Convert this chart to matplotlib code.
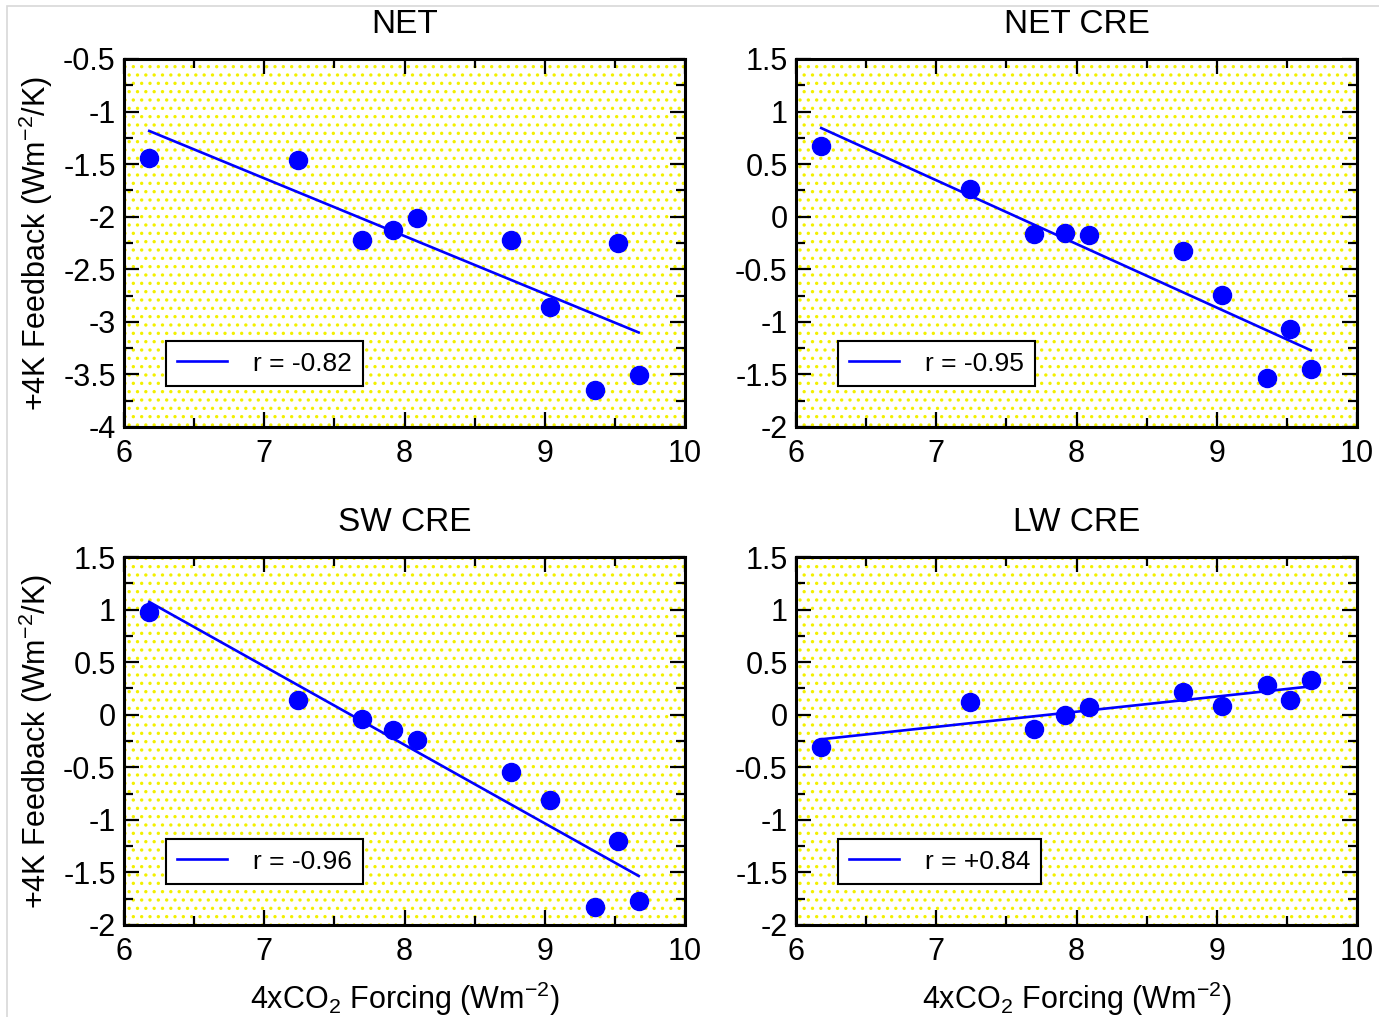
import numpy as np
import matplotlib
matplotlib.use('Agg')
import matplotlib.pyplot as plt
from matplotlib.patches import Rectangle
from matplotlib.ticker import MultipleLocator

plt.rcParams['font.family'] = ['Liberation Sans', 'DejaVu Sans']
plt.rcParams['mathtext.fontset'] = 'custom'
plt.rcParams['mathtext.rm'] = 'Liberation Sans'
plt.rcParams['hatch.linewidth'] = 1.2

# 4xCO2 forcing (same models in every panel)
forcing = [6.18, 7.24, 7.70, 7.92, 8.09, 8.76, 9.04, 9.36, 9.52, 9.67]

# +4K feedbacks
net = [-1.44, -1.46, -2.22, -2.13, -2.01, -2.22, -2.86, -3.65, -2.25, -3.51]
net_cre = [0.67, 0.26, -0.165, -0.156, -0.175, -0.33, -0.745, -1.535, -1.07, -1.45]
sw_cre = [0.977, 0.14, -0.04, -0.145, -0.24, -0.546, -0.81, -1.83, -1.20, -1.77]
lw_cre = [-0.31, 0.12, -0.137, -0.005, 0.07, 0.22, 0.08, 0.28, 0.14, 0.33]

titles = ['NET', 'NET CRE', 'SW CRE', 'LW CRE']
r_labels = ['r = -0.82', 'r = -0.95', 'r = -0.96', 'r = +0.84']
ylims = [(-4, -0.5), (-2, 1.5), (-2, 1.5), (-2, 1.5)]
series = [net, net_cre, sw_cre, lw_cre]

W, H = 1379, 1017
fig = plt.figure(figsize=(W / 100, H / 100), dpi=100)

# light frame around the figure
fig.patches.append(Rectangle((7 / W, -0.1), 1.2, 1 - 6 / H + 0.1, transform=fig.transFigure,
                             facecolor='none', edgecolor='#d8d8d8', linewidth=1.2))

lefts = [124, 796, 124, 796]
tops = [59, 59, 557, 557]
aw, ah = 561, 368

x = np.array(forcing)
for i in range(4):
    ax = fig.add_axes([lefts[i] / W, 1 - (tops[i] + ah) / H, aw / W, ah / H])
    ax.add_patch(Rectangle((0, 0), 1, 1, transform=ax.transAxes, facecolor='white',
                           edgecolor='#f2f000', linewidth=0, hatch='..', zorder=0))
    y = np.array(series[i])
    k, b = np.polyfit(x, y, 1)
    xl = np.array([x.min(), x.max()])
    ax.plot(xl, k * xl + b, color='blue', lw=1.9, label=r_labels[i], zorder=3)
    ax.plot(x, y, 'o', color='blue', ms=13, mec='blue', zorder=4)

    ax.set_xlim(6, 10)
    ax.set_ylim(*ylims[i])
    ax.xaxis.set_major_locator(MultipleLocator(1))
    ax.xaxis.set_minor_locator(MultipleLocator(0.5))
    ax.yaxis.set_major_locator(MultipleLocator(0.5))
    ax.yaxis.set_minor_locator(MultipleLocator(0.25))
    ax.yaxis.set_major_formatter(plt.FuncFormatter(lambda v, p: ('%g' % v)))
    ax.tick_params(which='both', direction='in', top=True, right=True, labelsize=22, width=1.6)
    ax.tick_params(which='major', length=11, pad=6)
    ax.tick_params(axis='x', which='major', pad=9)
    ax.tick_params(which='minor', length=6.5)
    for s in ax.spines.values():
        s.set_linewidth(2.2)
    ax.set_title(titles[i], fontsize=24, pad=19)

    leg = ax.legend(loc='lower left', bbox_to_anchor=(0.075, 0.111), fontsize=19,
                    fancybox=False, framealpha=1, edgecolor='black', handlelength=1.9,
                    handletextpad=1.0, borderpad=0.4, borderaxespad=0)
    leg.get_frame().set_linewidth(1.5)

    if i % 2 == 0:
        ax.set_ylabel(r'+4K Feedback (Wm$^{-2}$/K)', fontsize=22, labelpad=6)
    if i >= 2:
        ax.set_xlabel(r'4xCO$_2$ Forcing (Wm$^{-2}$)', fontsize=22, labelpad=9)

plt.savefig('out.png', dpi=100)
